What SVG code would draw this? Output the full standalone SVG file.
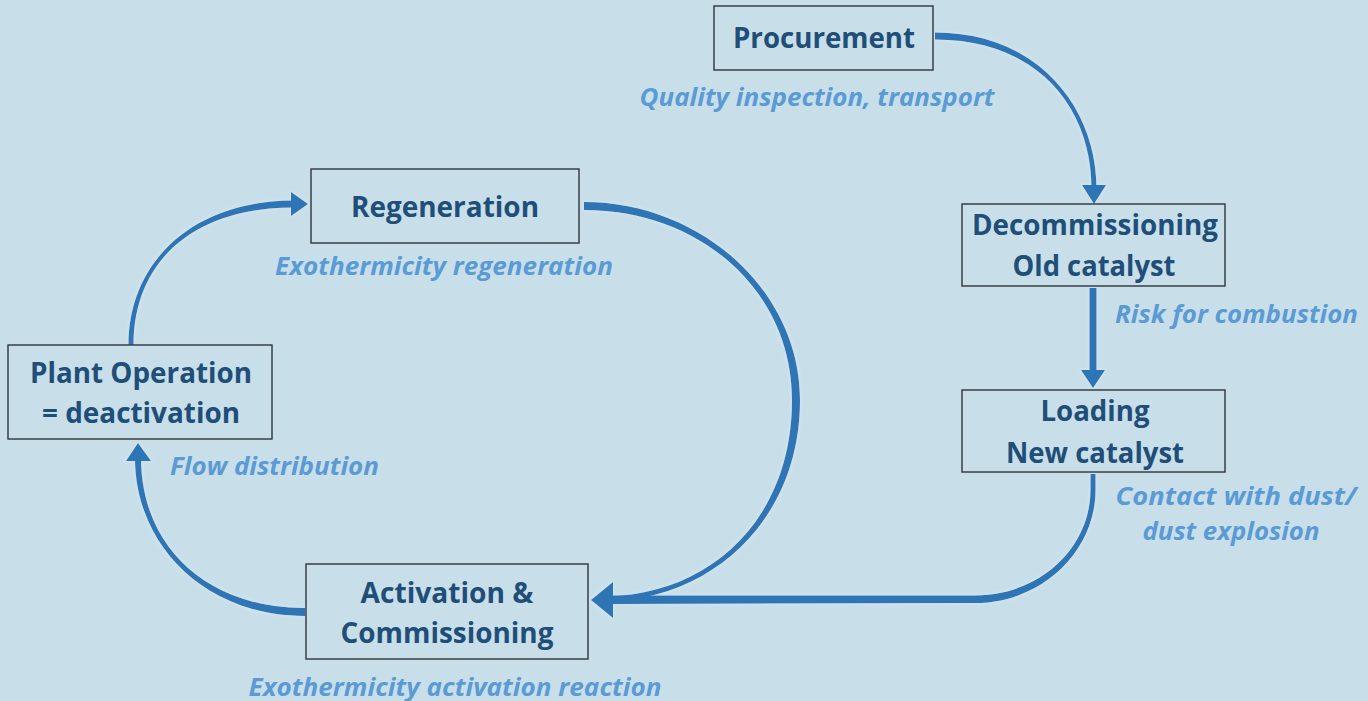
<svg xmlns="http://www.w3.org/2000/svg" width="1368" height="701" viewBox="0 0 1368 701">
  <defs>
    <style>
      .box { fill: none; stroke: #3a3f45; stroke-width: 1.5; }
      .title { font-family: "Open Sans", "Liberation Sans", sans-serif; font-weight: 700; font-size: 28px; fill: #1f4e79; text-anchor: middle; font-variant-ligatures: none; }
      .note { font-family: "Open Sans", "Liberation Sans", sans-serif; font-weight: 700; font-style: italic; font-size: 25px; fill: #5b9bd5; font-variant-ligatures: none; }
      .flow { fill: #2e75b6; }
      .line { fill: none; stroke: #2e75b6; }
      .head { fill: #2e75b6; }
    </style>
    <!-- soft light halo around the flow arrows -->
    <filter id="glow" x="-5%" y="-5%" width="110%" height="110%">
      <feMorphology in="SourceAlpha" operator="dilate" radius="1" result="wide"/>
      <feGaussianBlur in="wide" stdDeviation="1.8" result="soft"/>
      <feFlood flood-color="#dcebf3" flood-opacity="0.45"/>
      <feComposite in2="soft" operator="in" result="halo"/>
      <feMerge>
        <feMergeNode in="halo"/>
        <feMergeNode in="SourceGraphic"/>
      </feMerge>
    </filter>
  </defs>

  <rect width="1368" height="701" fill="#c8dfea"/>

  <!-- connectors: tapered bands drawn as filled outlines -->
  <g id="connectors" filter="url(#glow)">
    <!-- Procurement to Decommissioning -->
    <path class="flow" d="M 935 39.5 C 1040 39.5 1091.5 110 1091.5 188 L 1096.5 188 C 1096.5 110 1040 32.5 935 32.5 Z"/>
    <polygon class="head" points="1094,204 1082,185 1106,185"/>
    <!-- Decommissioning to Loading -->
    <path class="line" stroke-width="7" d="M 1093 288 L 1093 372"/>
    <polygon class="head" points="1093,388 1081,370 1105,370"/>
    <!-- Loading to Activation -->
    <path class="flow" d="M 1090.5 474 L 1090.5 490 C 1090.5 548.5 1039 595.5 975 595.5 L 612 595.5 L 612 604 L 975 603 C 1041.5 603 1095.5 551.5 1095.5 490 L 1095.5 474 Z"/>
    <!-- Regeneration to Activation -->
    <path class="flow" d="M 584 210 C 700 210 792 290 792 400 C 792 520 710 594.5 606 596.5 L 606 601.5 C 712 599.5 800 520 800 400 C 800 290 700 202 584 202 Z"/>
    <polygon class="head" points="591,600 613,582 613,618"/>
    <!-- Activation to Plant Operation -->
    <path class="flow" d="M 305 608 C 205 608 141 545 141 458 L 135 458 C 135 545 205 616 305 616 Z"/>
    <polygon class="head" points="138,443 126,461 151,461"/>
    <!-- Plant Operation to Regeneration -->
    <path class="flow" d="M 133.5 345 C 133.5 260 195 207.5 294 207.5 L 294 200.5 C 195 200.5 128.5 260 128.5 345 Z"/>
    <polygon class="head" points="308,204 291,192 291,216"/>
  </g>

  <g id="procurement">
    <rect class="box" x="714" y="6" width="219" height="64"/>
    <text class="title" x="824" y="48" textLength="182" lengthAdjust="spacingAndGlyphs">Procurement</text>
    <text class="note" x="817" y="106" text-anchor="middle" textLength="355" lengthAdjust="spacingAndGlyphs">Quality inspection, transport</text>
  </g>

  <g id="decommissioning">
    <rect class="box" x="962" y="204" width="263" height="82"/>
    <text class="title" x="1095" y="235" textLength="246" lengthAdjust="spacingAndGlyphs">Decommissioning</text>
    <text class="title" x="1094" y="276" textLength="163" lengthAdjust="spacingAndGlyphs">Old catalyst</text>
    <text class="note" x="1115" y="323" textLength="243" lengthAdjust="spacingAndGlyphs">Risk for combustion</text>
  </g>

  <g id="loading">
    <rect class="box" x="962" y="390" width="263" height="82"/>
    <text class="title" x="1095" y="421" textLength="109" lengthAdjust="spacingAndGlyphs">Loading</text>
    <text class="title" x="1095" y="463" textLength="178" lengthAdjust="spacingAndGlyphs">New catalyst</text>
    <text class="note" x="1236" y="505" text-anchor="middle" textLength="241" lengthAdjust="spacingAndGlyphs">Contact with dust/</text>
    <text class="note" x="1231" y="540" text-anchor="middle" textLength="177" lengthAdjust="spacingAndGlyphs">dust explosion</text>
  </g>

  <g id="regeneration">
    <rect class="box" x="311" y="169" width="268" height="74"/>
    <text class="title" x="445" y="217" textLength="188" lengthAdjust="spacingAndGlyphs">Regeneration</text>
    <text class="note" x="444" y="275" text-anchor="middle" textLength="338" lengthAdjust="spacingAndGlyphs">Exothermicity regeneration</text>
  </g>

  <g id="plant-operation">
    <rect class="box" x="8" y="345" width="264" height="94"/>
    <text class="title" x="141" y="383" textLength="222" lengthAdjust="spacingAndGlyphs">Plant Operation</text>
    <text class="title" x="141" y="423" textLength="198" lengthAdjust="spacingAndGlyphs">= deactivation</text>
    <text class="note" x="170" y="475" textLength="209" lengthAdjust="spacingAndGlyphs">Flow distribution</text>
  </g>

  <g id="activation">
    <rect class="box" x="306" y="564" width="282" height="95"/>
    <text class="title" x="447" y="603" textLength="173" lengthAdjust="spacingAndGlyphs">Activation &amp;</text>
    <text class="title" x="447" y="643" textLength="213" lengthAdjust="spacingAndGlyphs">Commissioning</text>
    <text class="note" x="455" y="696" text-anchor="middle" textLength="413" lengthAdjust="spacingAndGlyphs">Exothermicity activation reaction</text>
  </g>
</svg>
